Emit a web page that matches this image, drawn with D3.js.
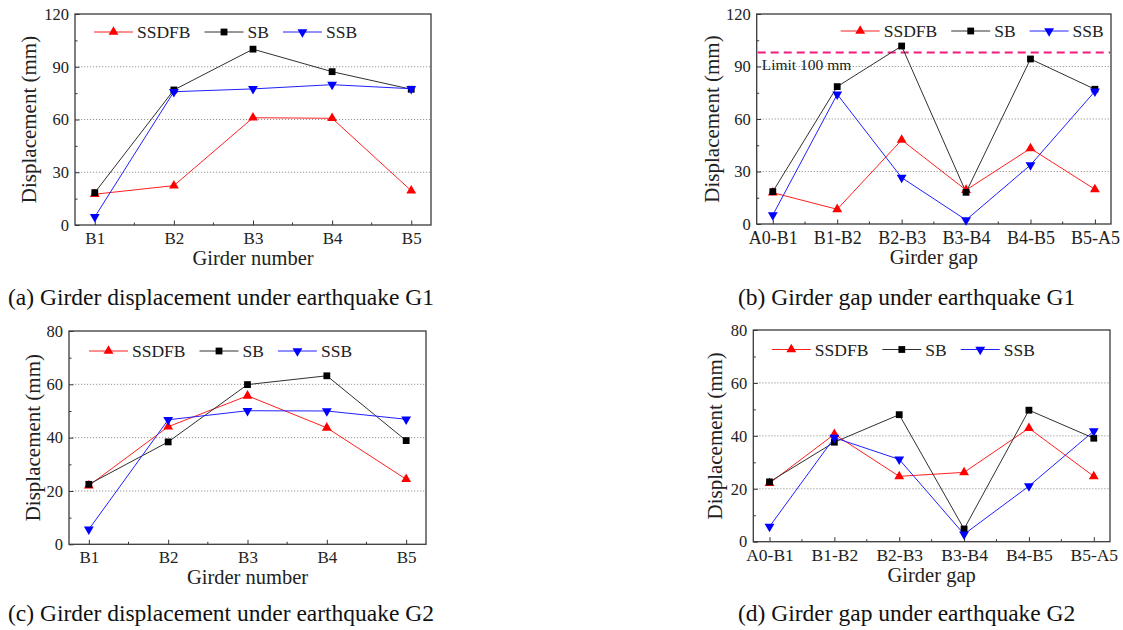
<!DOCTYPE html>
<html>
<head>
<meta charset="utf-8">
<script src="https://cdn.jsdelivr.net/npm/d3@7"></script>
<style>
  body { margin: 0; background: #ffffff; }
  svg { display: block; }
</style>
</head>
<body>
<script>
const [width, height] = [1123, 630];

// categories
const girders = ["B1", "B2", "B3", "B4", "B5"];
const gaps = ["A0-B1", "B1-B2", "B2-B3", "B3-B4", "B4-B5", "B5-A5"];
const seriesNames = ["SSDFB", "SB", "SSB"];

// (a) girder displacement, G1
const dispG1SSDFB = [17.5, 22.4, 61.0, 60.7, 19.5];
const dispG1SB    = [18.4, 76.8, 100.0, 87.2, 77.2];
const dispG1SSB   = [4.6, 75.8, 77.4, 79.8, 77.5];

// (b) girder gap, G1
const gapG1SSDFB = [17.9, 8.4, 48.0, 19.4, 43.2, 19.8];
const gapG1SB    = [18.5, 78.5, 101.7, 18.1, 94.3, 77.0];
const gapG1SSB   = [5.1, 74.1, 26.5, 2.3, 33.7, 75.8];
const gapLimit = 98;   // dashed line as drawn in the figure
const gapLimitLabel = "Limit 100 mm";

// (c) girder displacement, G2
const dispG2SSDFB = [22.0, 44.1, 55.7, 43.7, 24.4];
const dispG2SB    = [22.5, 38.4, 59.9, 63.2, 38.9];
const dispG2SSB   = [5.6, 46.7, 50.1, 50.0, 46.9];

// (d) girder gap, G2
const gapG2SSDFB = [22.1, 40.6, 24.7, 26.2, 42.9, 24.7];
const gapG2SB    = [22.6, 37.6, 48.0, 4.8, 49.7, 39.1];
const gapG2SSB   = [5.7, 39.3, 31.1, 2.8, 21.0, 41.8];

// y tick labels
const yTicksG1 = [0, 30, 60, 90, 120];
const yTicksG2 = [0, 20, 40, 60, 80];

const serif = "'Liberation Serif', 'Times New Roman', serif";
const colors = ["#ff0000", "#000000", "#0000ff"];
const lineColors = ["#ff2020", "#303030", "#2020ff"];

const panels = [
    {l: 75, t: 14, r: 431, b: 225, cats: girders, yTicks: yTicksG1,
     series: [dispG1SSDFB, dispG1SB, dispG1SSB], xTitle: "Girder number",
     caption: "(a) Girder displacement under earthquake G1", capX: 8, capY: 305,
     legX: 19, legY: 18, yTitleX: 29, catSize: 17},
    {l: 756.7, t: 14, r: 1111, b: 224, cats: gaps, yTicks: yTicksG1,
     series: [gapG1SSDFB, gapG1SB, gapG1SSB], xTitle: "Girder gap",
     caption: "(b) Girder gap under earthquake G1", capX: 738, capY: 305,
     legX: 84, legY: 17, yTitleX: 712, catSize: 18, limit: gapLimit},
    {l: 69, t: 331, r: 426, b: 544.3, cats: girders, yTicks: yTicksG2,
     series: [dispG2SSDFB, dispG2SB, dispG2SSB], xTitle: "Girder number",
     caption: "(c) Girder displacement under earthquake G2", capX: 8, capY: 621,
     legX: 20, legY: 20, yTitleX: 33, catSize: 17},
    {l: 753.3, t: 330, r: 1110, b: 541.7, cats: gaps, yTicks: yTicksG2,
     series: [gapG2SSDFB, gapG2SB, gapG2SSB], xTitle: "Girder gap",
     caption: "(d) Girder gap under earthquake G2", capX: 738, capY: 621,
     legX: 18.5, legY: 19.5, yTitleX: 715, catSize: 17.5}
];

const svg = d3.select("body").append("svg")
    .attr("width", width)
    .attr("height", height)
    .attr("viewBox", [0, 0, width, height]);

svg.append("rect").attr("width", width).attr("height", height).attr("fill", "#ffffff");

const markerPath = (i, size) => {
    if (i === 1) return d3.symbol(d3.symbolSquare, size * 1.1)();
    return d3.symbol(d3.symbolTriangle, size)();
};

const drawMarker = (sel, i, size) => sel
    .attr("d", markerPath(i, size))
    .attr("fill", colors[i])
    .attr("stroke", "none");

panels.forEach(p => {
    const g = svg.append("g");

    const x = d3.scalePoint().domain(p.cats).range([p.l, p.r]).padding(0.25);
    const y = d3.scaleLinear().domain([0, d3.max(p.yTicks)]).range([p.b, p.t]);
    const yStep = p.yTicks[1] - p.yTicks[0];
    const yMinor = p.yTicks.slice(0, -1).map(v => v + yStep / 2);

    // dotted grid
    g.append("g")
        .selectAll("line")
        .data(p.yTicks.slice(1, -1))
        .join("line")
            .attr("x1", p.l).attr("x2", p.r)
            .attr("y1", d => y(d)).attr("y2", d => y(d))
            .attr("stroke", "#8a8a8a")
            .attr("stroke-width", 0.9)
            .attr("stroke-dasharray", "1.2,1.8");

    // y axis
    const yAxis = g.append("g")
        .attr("transform", `translate(${p.l},0)`)
        .call(d3.axisLeft(y).tickValues(p.yTicks).tickSize(-4.5).tickPadding(6));
    yAxis.select(".domain").remove();
    yAxis.selectAll("text").attr("font-family", serif).attr("font-size", 16.5).attr("fill", "#222");
    yAxis.selectAll("line").attr("stroke", "#333");

    const yAxisMinor = g.append("g")
        .attr("transform", `translate(${p.l},0)`)
        .call(d3.axisLeft(y).tickValues(yMinor).tickSize(-2.5).tickFormat(""));
    yAxisMinor.select(".domain").remove();
    yAxisMinor.selectAll("line").attr("stroke", "#333");

    // x axis
    const xAxis = g.append("g")
        .attr("transform", `translate(0,${p.b})`)
        .call(d3.axisBottom(x).tickSize(-4.5).tickPadding(7));
    xAxis.select(".domain").remove();
    xAxis.selectAll("text").attr("font-family", serif).attr("font-size", p.catSize).attr("fill", "#222");
    xAxis.selectAll("line").attr("stroke", "#333");

    g.append("g")
        .selectAll("line")
        .data(d3.pairs(p.cats))
        .join("line")
            .attr("x1", d => (x(d[0]) + x(d[1])) / 2)
            .attr("x2", d => (x(d[0]) + x(d[1])) / 2)
            .attr("y1", p.b).attr("y2", p.b - 2.5)
            .attr("stroke", "#333");

    // frame
    g.append("rect")
        .attr("x", p.l).attr("y", p.t)
        .attr("width", p.r - p.l).attr("height", p.b - p.t)
        .attr("fill", "none")
        .attr("stroke", "#3a3a3a")
        .attr("stroke-width", 1.3);

    // limit line
    if (p.limit !== undefined) {
        g.append("line")
            .attr("x1", p.l + 1).attr("x2", p.r - 1)
            .attr("y1", y(p.limit)).attr("y2", y(p.limit))
            .attr("stroke", "#f2197f")
            .attr("stroke-width", 2.2)
            .attr("stroke-dasharray", "8,5");
        g.append("text")
            .attr("x", p.l + 5)
            .attr("y", y(p.limit) + 17)
            .attr("font-family", serif)
            .attr("font-size", 15.5)
            .attr("fill", "#222")
            .text(gapLimitLabel);
    }

    // series
    const line = d3.line().x((d, j) => x(p.cats[j])).y(d => y(d));
    p.series.forEach((vals, i) => {
        g.append("path")
            .datum(vals)
            .attr("fill", "none")
            .attr("stroke", lineColors[i])
            .attr("stroke-width", 1)
            .attr("d", line);
    });
    p.series.forEach((vals, i) => {
        g.append("g")
            .selectAll("path")
            .data(vals)
            .join("path")
                .attr("transform", (d, j) => `translate(${x(p.cats[j])},${y(d)})` + (i === 2 ? " rotate(180)" : ""))
                .call(sel => drawMarker(sel, i, 42));
    });

    // legend
    let lx = p.l + p.legX;
    const ly = p.t + p.legY;
    seriesNames.forEach((name, i) => {
        g.append("line")
            .attr("x1", lx).attr("x2", lx + 39)
            .attr("y1", ly).attr("y2", ly)
            .attr("stroke", lineColors[i])
            .attr("stroke-width", 1);
        g.append("path")
            .attr("transform", `translate(${lx + 19.5},${ly})` + (i === 2 ? " rotate(180)" : ""))
            .call(sel => drawMarker(sel, i, 42));
        const t = g.append("text")
            .attr("x", lx + 43)
            .attr("y", ly)
            .attr("dy", "0.35em")
            .attr("font-family", serif)
            .attr("font-size", 17.5)
            .attr("fill", "#222")
            .text(name);
        lx += 43 + t.node().getComputedTextLength() + 14;
    });

    // axis titles
    g.append("text")
        .attr("x", (p.l + p.r) / 2)
        .attr("y", p.b + 40)
        .attr("text-anchor", "middle")
        .attr("font-family", serif)
        .attr("font-size", 20.5)
        .attr("fill", "#222")
        .text(p.xTitle);

    g.append("text")
        .attr("transform", `translate(${p.yTitleX},${(p.t + p.b) / 2}) rotate(-90)`)
        .attr("dy", "0.35em")
        .attr("text-anchor", "middle")
        .attr("font-family", serif)
        .attr("font-size", 21)
        .attr("fill", "#222")
        .text("Displacement (mm)");

    // caption
    g.append("text")
        .attr("x", p.capX)
        .attr("y", p.capY)
        .attr("font-family", serif)
        .attr("font-size", 23.5)
        .attr("fill", "#111")
        .text(p.caption);
});
</script>
</body>
</html>
